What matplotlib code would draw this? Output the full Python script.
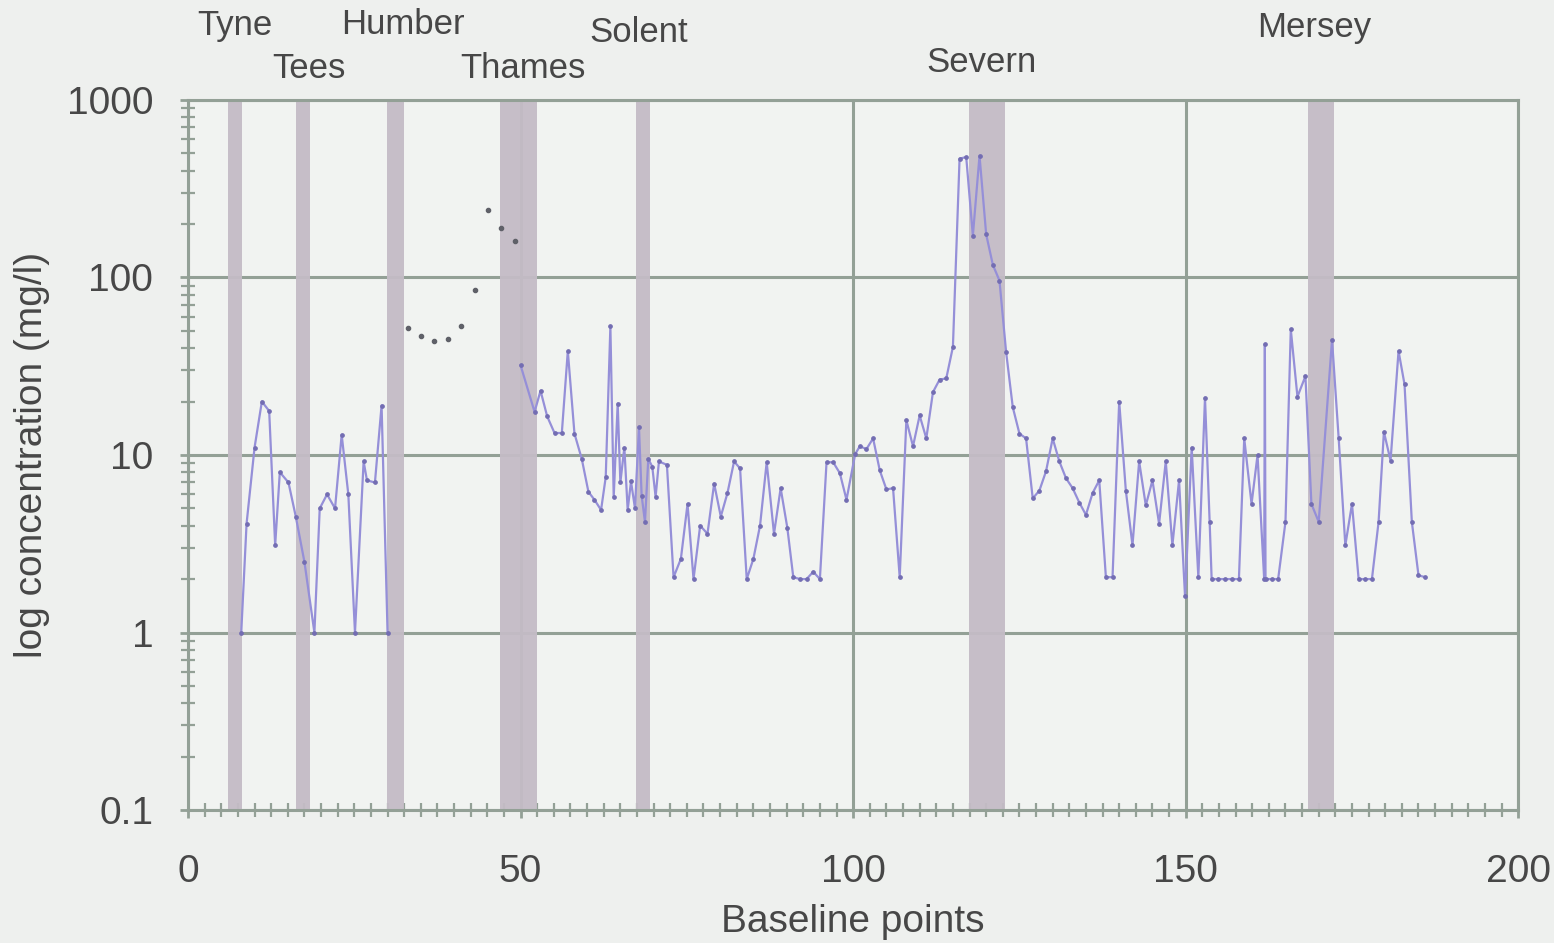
import numpy as np
import matplotlib
matplotlib.use("Agg")
import matplotlib.pyplot as plt
import matplotlib.transforms as mtransforms
from matplotlib.ticker import FixedLocator, LogLocator, NullFormatter, MultipleLocator

# ---------------- data ----------------
# main series (two segments)
seg1_x = [8, 8.8, 10.0, 11.1, 12.2, 13.1, 13.8, 15.1, 16.2, 17.5, 19.0, 19.8, 20.9, 22.1,
          23.1, 24.1, 25.1, 26.4, 26.9, 28.1, 29.1, 30.0]
seg1_y = [1, 4.1, 11, 20, 17.7, 3.1, 8, 7, 4.5, 2.5, 1, 5, 6, 5,
          13, 6, 1, 9.2, 7.2, 7, 19, 1]

seg2_x = [50, 52.1, 53, 54, 55.1, 56.2, 57.1, 58.1, 59.2, 60.2, 61.1, 62.1, 62.8, 63.5,
          64, 64.6, 65, 65.6, 66.1, 66.6, 67.2, 67.8, 68.2, 68.7, 69.2, 69.8, 70.3, 70.8,
          72, 73, 74.1, 75.1, 76, 77, 78.1, 79.1, 80.1, 81.1, 82.1, 83, 84, 85, 86, 87,
          88.1, 89.1, 90.1, 91, 92, 93, 94, 95, 96, 97, 98, 99, 100.3, 101, 102, 103,
          104, 105, 106, 107, 108, 109, 110, 111, 112, 113, 114, 115, 116, 117, 118, 119,
          120, 121, 122, 123, 124, 125, 126, 127, 128, 129, 130, 131, 132, 133, 134, 135,
          136, 137, 138, 139, 140, 141, 142, 143, 144, 145, 146, 147, 148, 149, 149.9,
          150.9, 151.9, 152.9, 153.6, 153.9, 154.9, 155.9, 157, 158, 158.8, 159.9, 160.8,
          161.8, 161.9, 162.0, 163, 163.9, 165, 165.8, 166.8, 168, 168.9, 170, 172, 173,
          174, 175, 176, 177, 178, 179, 179.8, 180.8, 182, 182.9, 184, 185, 186]
seg2_y = [32, 17.5, 23, 16.5, 13.3, 13.3, 38.5, 13.2, 9.5, 6.2, 5.6, 4.9, 7.5, 53,
          5.8, 19.5, 7, 11, 4.9, 7.1, 5, 14.3, 5.9, 4.2, 9.5, 8.6, 5.8, 9.2,
          8.8, 2.05, 2.6, 5.3, 2, 4, 3.6, 6.9, 4.5, 6.1, 9.2, 8.4, 2, 2.6, 4, 9.1,
          3.6, 6.5, 3.9, 2.05, 2, 2, 2.2, 2, 9.1, 9.1, 7.9, 5.6, 10.1, 11.2, 10.8, 12.4,
          8.2, 6.4, 6.5, 2.05, 15.7, 11.2, 16.7, 12.4, 22.6, 26.6, 27, 40.6, 467, 477, 172, 485,
          175, 118, 96, 38, 18.6, 13.2, 12.4, 5.7, 6.3, 8.1, 12.4, 9.2, 7.4, 6.5, 5.4, 4.6,
          6.1, 7.2, 2.05, 2.05, 20, 6.3, 3.1, 9.2, 5.2, 7.2, 4.1, 9.2, 3.1, 7.2, 1.6,
          11, 2.05, 21, 4.2, 2, 2, 2, 2, 2, 12.4, 5.3, 10,
          2, 42, 2, 2, 2, 4.2, 51, 21.3, 27.8, 5.3, 4.2, 44.5, 12.4,
          3.1, 5.3, 2, 2, 2, 4.2, 13.5, 9.3, 38.5, 25, 4.2, 2.1, 2.05]

# separate dotted series (markers only)
dots_x = [33.1, 35, 37, 39.1, 41.1, 43.1, 45.1, 47.1, 49.1]
dots_y = [51.6, 47, 43.8, 45.3, 53.3, 85, 240, 190, 160]

# estuary bands (start, end) and labels
estuaries = ["Tyne", "Tees", "Humber", "Thames", "Solent", "Severn", "Mersey"]
band_start = [6.0, 16.2, 29.9, 46.9, 67.4, 117.4, 168.4]
band_end = [8.1, 18.3, 32.5, 52.5, 69.5, 122.9, 172.3]
label_x = [7.0, 18.2, 32.3, 50.3, 67.7, 119.3, 169.3]

x_ticks = [0, 50, 100, 150, 200]
y_ticks = [0.1, 1, 10, 100, 1000]
y_ticklabels = ["0.1", "1", "10", "100", "1000"]

# label vertical positions in pixels from top of figure (style only)
label_top_px = [25, 68, 25, 68, 33, 63, 28]

# ---------------- figure ----------------
plt.rcParams['font.family'] = ['Liberation Sans', 'DejaVu Sans']
bg = '#eef0ee'
W, H = 1554, 943
fig = plt.figure(figsize=(W / 100, H / 100), dpi=100, facecolor=bg)
ax = fig.add_axes([0.121, 0.141, 0.856, 0.753], facecolor='#f1f3f1')
ax.set_yscale('log')
ax.set_xlim(0, 200)
ax.set_ylim(0.1, 1000)

gridc = '#93a096'
ax.grid(True, which='major', color=gridc, lw=2.2, zorder=1)

for s, e in zip(band_start, band_end):
    ax.axvspan(s, e, color='#c4bcc6', alpha=0.95, lw=0, zorder=2)

linec = '#958fd8'
mk = '#736db2'
ax.plot(seg1_x, seg1_y, color=linec, lw=1.6, marker='o', ms=2.4,
        mfc=mk, mec=mk, zorder=3)
ax.plot(seg2_x, seg2_y, color=linec, lw=1.6, marker='o', ms=2.4,
        mfc=mk, mec=mk, zorder=3)
ax.plot(dots_x, dots_y, ls='none', marker='o', ms=3.0, color='#5f6068', zorder=3)

for sp in ax.spines.values():
    sp.set_color(gridc)
    sp.set_linewidth(2.2)

ax.xaxis.set_major_locator(FixedLocator(x_ticks))
ax.xaxis.set_minor_locator(MultipleLocator(2.5))
ax.yaxis.set_major_locator(FixedLocator(y_ticks))
ax.set_yticklabels(y_ticklabels)
ax.yaxis.set_minor_locator(LogLocator(base=10, subs=np.arange(2, 10)))
ax.yaxis.set_minor_formatter(NullFormatter())

txtc = '#474747'
fs = 28
ax.tick_params(axis='both', which='major', direction='inout', length=12, width=2,
               color=gridc, labelsize=fs, labelcolor=txtc)
ax.tick_params(axis='both', which='minor', direction='inout', length=10, width=1.6,
               color=gridc)
ax.tick_params(axis='x', which='major', pad=26)
ax.tick_params(axis='y', which='major', pad=19)

ax.set_xlabel("Baseline points", fontsize=fs, color=txtc, labelpad=10)
ax.set_ylabel("log concentration (mg/l)", fontsize=fs, color=txtc, labelpad=12)

trans = mtransforms.blended_transform_factory(ax.transData, fig.transFigure)
for name, lx, ty in zip(estuaries, label_x, label_top_px):
    fig.text(lx, 1 - ty / H, name, transform=trans, ha='center', va='center',
             fontsize=25, color=txtc)

fig.savefig('out.png', dpi=100, facecolor=bg)
